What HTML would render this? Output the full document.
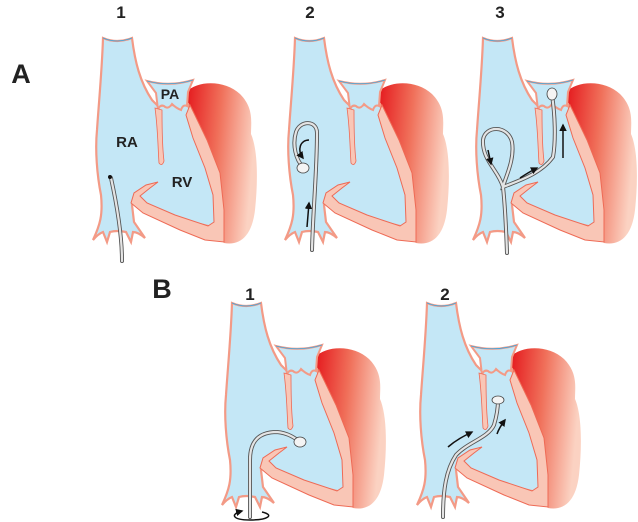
<!DOCTYPE html>
<html><head><meta charset="utf-8"><style>
html,body{margin:0;padding:0;background:#fff;}
svg{display:block;}
text{font-family:"Liberation Sans",Arial,sans-serif;font-weight:bold;fill:#222;}
</style></head><body>
<svg width="638" height="522" viewBox="0 0 638 522" xmlns="http://www.w3.org/2000/svg">
<defs>
<linearGradient id="lv" x1="0" y1="0" x2="1" y2="0.2">
<stop offset="0" stop-color="#e4141a"/><stop offset="0.5" stop-color="#f0705a"/><stop offset="1" stop-color="#fbd2c2"/>
</linearGradient>
<marker id="ah" viewBox="0 0 10 10" refX="8" refY="5" markerWidth="5" markerHeight="5" orient="auto"><path d="M0,0 L10,5 L0,10 z" fill="#111"/></marker>
<g id="heart">
<path d="M186,92 C198,80 225,80 240,94 C254,108 251,122 251,134 C258,150 258,182 255,210 C252,236 240,246 224,243 L215,235 L200,160 L185,110 Z" fill="url(#lv)"/>
<path d="M103,38 Q117,44 132,38 C135,62 140,82 152,100 L158,106 L188,104 L195,125 L207,160 L215,200 L216,228 L175,218 L140,200 L132,205 L134,222 L145,238 Q138,232 133,232 L131,242 L126,232 Q117,230 110,232 L107,242 L103,232 Q98,234 93,240 C100,225 103,215 101,195 C97,175 95,150 97,130 C99,100 102,70 103,38 Z" fill="#c4e7f6" stroke="#f39a86" stroke-width="2.2"/>
<path d="M103,38 Q117,44 132,38" fill="none" stroke="#3aa8e0" stroke-width="0.8"/>
<path d="M190,105 L207,140 L220,173 L224,210 L224,242 L205,240 L180,230 L143,213 L131,203 L134,193 L146,185 L158,182 L150,188 L140,196 L147,203 L175,215 L208,226 L214,222 L213,195 L205,168 L193,138 L186,115 Z" fill="#f9c6b6" stroke="#ee6a55" stroke-width="1"/>
<path d="M147,81 Q170,87 193,80 L188,92 L187,106 Q183,104 181,110 Q176,108 172,104 Q168,110 164,106 Q160,104 158,110 L156,93 Z" fill="#c4e7f6" stroke="#f39a86" stroke-width="2"/>
<path d="M147,81 Q170,87 193,80" fill="none" stroke="#3aa8e0" stroke-width="0.8"/>
<path d="M155,108 C158,130 158,150 159,163 Q162,167 164,161 C162,145 162,125 162,110 Z" fill="#f9c6b6" stroke="#ee6a55" stroke-width="0.8"/>
</g>
</defs>
<g fill="none">
<use href="#heart"/>
<use href="#heart" x="192"/>
<use href="#heart" x="380"/>
<use href="#heart" x="129" y="265"/>
<use href="#heart" x="324" y="265"/>
</g>
<!-- labels -->
<text x="21" y="83" font-size="27" text-anchor="middle">A</text>
<text x="162" y="298" font-size="27" text-anchor="middle">B</text>
<text x="121" y="18" font-size="17" text-anchor="middle">1</text>
<text x="310" y="18" font-size="17" text-anchor="middle">2</text>
<text x="500" y="18" font-size="17" text-anchor="middle">3</text>
<text x="250" y="300" font-size="17" text-anchor="middle">1</text>
<text x="445" y="300" font-size="17" text-anchor="middle">2</text>
<text x="170" y="99" font-size="14" text-anchor="middle">PA</text>
<text x="127" y="147" font-size="15" text-anchor="middle">RA</text>
<text x="182" y="187" font-size="15" text-anchor="middle">RV</text>
<!-- catheters -->
<g fill="none" stroke-linecap="round">
<g stroke="#555" stroke-width="4">
<path d="M122,261 C122,240 118,210 111,178"/>
<path d="M312,250 C313,210 317,170 317,133 C317,120 300,120 296,132 C292,145 296,160 303,167"/>
<path d="M507,253 C506,225 505,205 503,187 C498,170 482,160 483,140 C485,125 508,125 512,142 C515,160 505,178 503,187 C515,182 540,175 553,157 C556,140 555,115 552,95"/>
<path d="M250,517 L250,460 C250,440 260,432 277,432 C288,433 295,438 300,442"/>
<path d="M443,517 C443,490 446,470 456,455 C468,442 488,438 494,425 C497,415 498,408 498,400"/>
</g>
<g stroke="#e4e4e4" stroke-width="2.2">
<path d="M122,261 C122,240 118,210 111,178"/>
<path d="M312,250 C313,210 317,170 317,133 C317,120 300,120 296,132 C292,145 296,160 303,167"/>
<path d="M507,253 C506,225 505,205 503,187 C498,170 482,160 483,140 C485,125 508,125 512,142 C515,160 505,178 503,187 C515,182 540,175 553,157 C556,140 555,115 552,95"/>
<path d="M250,517 L250,460 C250,440 260,432 277,432 C288,433 295,438 300,442"/>
<path d="M443,517 C443,490 446,470 456,455 C468,442 488,438 494,425 C497,415 498,408 498,400"/>
</g>
</g>
<circle cx="110" cy="177" r="2" fill="#111"/>
<g fill="#f4f4f4" stroke="#444" stroke-width="0.8">
<ellipse cx="303" cy="168" rx="6" ry="5"/>
<ellipse cx="552" cy="94" rx="5" ry="6"/>
<ellipse cx="300" cy="442" rx="6" ry="5"/>
<ellipse cx="498" cy="400" rx="6" ry="4"/>
</g>
<!-- arrows -->
<g fill="none" stroke="#111" stroke-width="1.5" marker-end="url(#ah)">
<path d="M307,227 L309,203"/>
<path d="M309,140 C300,140 297,150 303,158"/>
<path d="M488,150 L491,164"/>
<path d="M520,178 C526,174 531,171 537,168"/>
<path d="M563,158 L563,125"/>
<path d="M448,447 C456,440 464,436 472,432"/>
<path d="M497,434 C499,428 502,424 505,420"/>
<path d="M262,512 C275,515 268,520 250,520 C232,520 230,514 242,511"/>
</g>
</svg>
</body></html>
